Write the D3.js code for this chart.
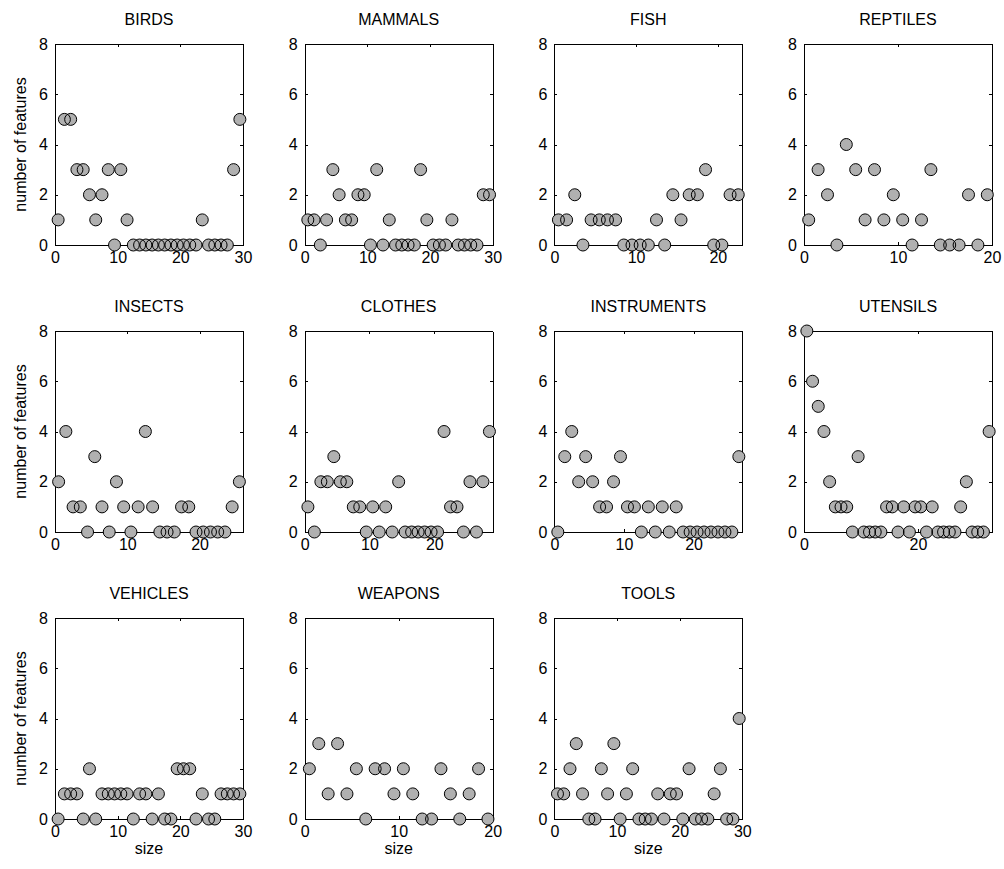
<!DOCTYPE html>
<html>
<head>
<meta charset="utf-8">
<script src="https://cdn.jsdelivr.net/npm/d3@7"></script>
<style>
  html, body { margin: 0; padding: 0; background: #fff; }
  svg { display: block; }
  text { font-family: "Liberation Sans", Arial, Helvetica, sans-serif; fill: #000; }
</style>
</head>
<body>
<div id="chart"></div>
<script>
// one panel per category, values = number of features for each item (sorted by size)
const categories = ['BIRDS', 'MAMMALS', 'FISH', 'REPTILES', 'INSECTS', 'CLOTHES',
  'INSTRUMENTS', 'UTENSILS', 'VEHICLES', 'WEAPONS', 'TOOLS'];

const birds = [1, 5, 5, 3, 3, 2, 1, 2, 3, 0, 3, 1, 0, 0, 0, 0, 0, 0, 0, 0, 0, 0, 0, 1, 0, 0, 0, 0, 3, 5];
const mammals = [1, 1, 0, 1, 3, 2, 1, 1, 2, 2, 0, 3, 0, 1, 0, 0, 0, 0, 3, 1, 0, 0, 0, 1, 0, 0, 0, 0, 2, 2];
const fish = [1, 1, 2, 0, 1, 1, 1, 1, 0, 0, 0, 0, 1, 0, 2, 1, 2, 2, 3, 0, 0, 2, 2];
const reptiles = [1, 3, 2, 0, 4, 3, 1, 3, 1, 2, 1, 0, 1, 3, 0, 0, 0, 2, 0, 2];
const insects = [2, 4, 1, 1, 0, 3, 1, 0, 2, 1, 0, 1, 4, 1, 0, 0, 0, 1, 1, 0, 0, 0, 0, 0, 1, 2];
const clothes = [1, 0, 2, 2, 3, 2, 2, 1, 1, 0, 1, 0, 1, 0, 2, 0, 0, 0, 0, 0, 0, 4, 1, 1, 0, 2, 0, 2, 4];
const instruments = [0, 3, 4, 2, 3, 2, 1, 1, 2, 3, 1, 1, 0, 1, 0, 1, 0, 1, 0, 0, 0, 0, 0, 0, 0, 0, 3];
const utensils = [8, 6, 5, 4, 2, 1, 1, 1, 0, 3, 0, 0, 0, 0, 1, 1, 0, 1, 0, 1, 1, 0, 1, 0, 0, 0, 0, 1, 2, 0, 0, 0, 4];
const vehicles = [0, 1, 1, 1, 0, 2, 0, 1, 1, 1, 1, 1, 0, 1, 1, 0, 1, 0, 0, 2, 2, 2, 0, 1, 0, 0, 1, 1, 1, 1];
const weapons = [2, 3, 1, 3, 1, 2, 0, 2, 2, 1, 2, 1, 0, 0, 2, 1, 0, 1, 2, 0];
const tools = [1, 1, 2, 3, 1, 0, 0, 2, 1, 3, 0, 1, 2, 0, 0, 0, 1, 0, 1, 1, 0, 2, 0, 0, 0, 1, 2, 0, 0, 4];

const series = [birds, mammals, fish, reptiles, insects, clothes, instruments, utensils, vehicles, weapons, tools];

const xTickLabels = [
  [0, 10, 20, 30], [0, 10, 20, 30], [0, 10, 20], [0, 10, 20],
  [0, 10, 20], [0, 10, 20], [0, 10, 20], [0, 20],
  [0, 10, 20, 30], [0, 10, 20], [0, 10, 20, 30]
];
const yTickLabels = [0, 2, 4, 6, 8];

const width = 1004;
const height = 869;
const plotW = 188;
const plotH = 201;
const fontSize = 16;
const tickLen = 3;

const colPos = d3.scaleLinear().domain([0, 3]).range([55, 804]);
const rowPos = d3.scaleLinear().domain([0, 2]).range([44, 618]);

const svg = d3.select('#chart')
  .append('svg')
  .attr('width', width)
  .attr('height', height);

const y = d3.scaleLinear().domain([0, 8]).range([plotH, 0]);

categories.forEach((name, k) => {
  const values = series[k];
  const col = k % 4;
  const row = Math.floor(k / 4);
  const x = d3.scaleLinear().domain([0, values.length]).range([0, plotW]);

  const g = svg.append('g')
    .attr('transform', `translate(${colPos(col)}, ${rowPos(row)})`);

  // axes (MATLAB style box with inward ticks)
  const bottom = g.append('g')
    .attr('transform', `translate(0, ${plotH})`)
    .call(d3.axisBottom(x).tickValues(xTickLabels[k]).tickSizeInner(-tickLen).tickSizeOuter(0).tickPadding(7));
  const top = g.append('g')
    .call(d3.axisTop(x).tickValues(xTickLabels[k]).tickSizeInner(-tickLen).tickSizeOuter(0).tickFormat(''));
  const left = g.append('g')
    .call(d3.axisLeft(y).tickValues(yTickLabels).tickSizeInner(-tickLen).tickSizeOuter(0).tickPadding(7));
  const right = g.append('g')
    .attr('transform', `translate(${plotW}, 0)`)
    .call(d3.axisRight(y).tickValues(yTickLabels).tickSizeInner(-tickLen).tickSizeOuter(0).tickFormat(''));

  [bottom, top, left, right].forEach(a => {
    a.selectAll('path, line').attr('stroke', '#000').attr('stroke-width', 1).attr('shape-rendering', 'crispEdges');
    a.selectAll('text')
      .style('font-size', fontSize + 'px')
      .style('font-family', '"Liberation Sans", Arial, sans-serif')
      .attr('fill', '#000');
  });

  // title
  g.append('text')
    .attr('x', plotW / 2)
    .attr('y', -19)
    .attr('text-anchor', 'middle')
    .style('font-size', fontSize + 'px')
    .text(name);

  // markers: faces first, then edges, so overlapping rings stay visible
  const pts = values.map((v, i) => ({ i: i + 0.5, v: v }));
  g.append('g').selectAll('circle')
    .data(pts)
    .enter().append('circle')
    .attr('cx', d => x(d.i))
    .attr('cy', d => y(d.v))
    .attr('r', 6)
    .attr('fill', '#b0b0b0')
    .attr('stroke', 'none');
  g.append('g').selectAll('circle')
    .data(pts)
    .enter().append('circle')
    .attr('cx', d => x(d.i))
    .attr('cy', d => y(d.v))
    .attr('r', 6)
    .attr('fill', 'none')
    .attr('stroke', '#000')
    .attr('stroke-width', 1);

  if (col === 0) {
    g.append('text')
      .attr('transform', `translate(${20 - colPos(0)}, ${plotH / 2}) rotate(-90)`)
      .attr('text-anchor', 'middle')
      .attr('dy', '0.35em')
      .style('font-size', fontSize + 'px')
      .text('number of features');
  }
  if (row === 2) {
    g.append('text')
      .attr('x', plotW / 2)
      .attr('y', plotH + 35)
      .attr('text-anchor', 'middle')
      .style('font-size', fontSize + 'px')
      .text('size');
  }
});
</script>
</body>
</html>
